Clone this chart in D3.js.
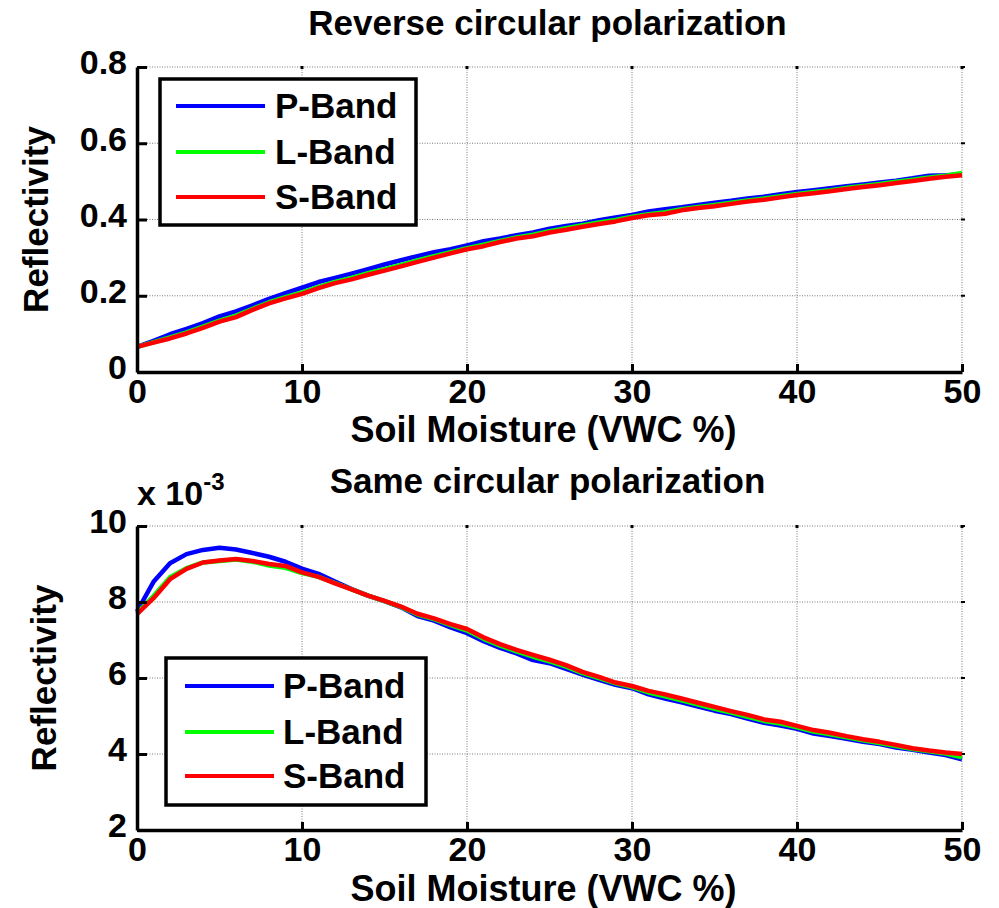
<!DOCTYPE html>
<html>
<head>
<meta charset="utf-8">
<script src="https://cdn.jsdelivr.net/npm/d3@7"></script>
<style>
  body { margin: 0; background: #fff; }
  text { font-family: "Liberation Sans", Arial, sans-serif; font-weight: bold; fill: #000; }
</style>
</head>
<body>
<script>
/* ---------------------- Data ---------------------- */
var moisture = [0,1,2,3,4,5,6,7,8,9,10,11,12,13,14,15,16,17,18,19,20,21,22,23,24,25,
                26,27,28,29,30,31,32,33,34,35,36,37,38,39,40,41,42,43,44,45,46,47,48,49,50];

var bands = ["P-Band", "L-Band", "S-Band"];
var bandColors = ["#0000ff", "#00ff00", "#ff0000"];

// Reverse circular polarization (reflectivity)
var rcpP = [.066,.082,.099,.113,.128,.146,.159,.175,.192,.207,.221,.236,.247,.258,.270,.282,.293,.304,.314,.322,
            .332,.343,.350,.359,.366,.376,.383,.389,.398,.405,.412,.421,.427,.432,.438,.444,.449,.455,.460,.466,
            .472,.477,.482,.487,.492,.497,.502,.508,.515,.516,.518];
var rcpL = [.066,.078,.091,.104,.119,.135,.148,.166,.183,.196,.209,.223,.236,.247,.259,.270,.281,.293,.304,.314,
            .325,.334,.344,.353,.360,.369,.377,.385,.392,.399,.407,.414,.419,.427,.433,.438,.444,.450,.455,.461,
            .467,.472,.477,.483,.488,.493,.499,.504,.510,.515,.522];
var rcpS = [.066,.077,.088,.101,.116,.132,.144,.163,.180,.193,.205,.220,.233,.243,.255,.266,.277,.289,.300,.311,
            .322,.330,.341,.350,.356,.366,.373,.381,.388,.395,.404,.411,.415,.424,.430,.435,.441,.447,.452,.458,
            .464,.469,.474,.480,.485,.490,.496,.501,.507,.512,.516];

// Same circular polarization (reflectivity, x 10^-3)
var scpP = [7.75,8.53,9.02,9.26,9.37,9.43,9.38,9.29,9.19,9.06,8.88,8.74,8.54,8.34,8.17,8.02,7.86,7.63,7.51,7.33,
            7.18,6.97,6.79,6.65,6.47,6.39,6.24,6.09,5.95,5.82,5.73,5.57,5.46,5.36,5.25,5.14,5.05,4.93,4.82,4.75,
            4.66,4.54,4.47,4.40,4.32,4.26,4.17,4.11,4.04,3.97,3.86];
var scpL = [7.70,8.16,8.65,8.89,9.04,9.08,9.12,9.06,8.96,8.90,8.76,8.66,8.50,8.33,8.17,8.02,7.87,7.67,7.55,7.39,
            7.25,7.03,6.85,6.70,6.56,6.44,6.30,6.13,6.00,5.86,5.76,5.62,5.52,5.41,5.30,5.19,5.09,4.98,4.87,4.80,
            4.70,4.59,4.52,4.44,4.36,4.29,4.21,4.13,4.07,4.01,3.91];
var scpS = [7.68,8.10,8.60,8.87,9.04,9.09,9.13,9.08,9.00,8.95,8.78,8.66,8.49,8.33,8.17,8.03,7.88,7.69,7.57,7.42,
            7.29,7.07,6.89,6.74,6.61,6.48,6.34,6.16,6.03,5.88,5.79,5.66,5.57,5.46,5.35,5.24,5.13,5.03,4.91,4.85,
            4.74,4.63,4.56,4.47,4.39,4.32,4.24,4.15,4.09,4.04,4.00];

var xTicks = [0, 10, 20, 30, 40, 50];
var yTicksTop = [0, 0.2, 0.4, 0.6, 0.8];
var yLabelsTop = ["0", "0.2", "0.4", "0.6", "0.8"];
var yTicksBottom = [2, 4, 6, 8, 10];
var yLabelsBottom = ["2", "4", "6", "8", "10"];

/* ---------------------- Chart ---------------------- */
var W = 999, H = 908;
var svg = d3.select("body").append("svg")
    .attr("width", W)
    .attr("height", H);

drawPanel({
    top: 67, bottom: 372,
    yDomain: [0, 0.8], yTicks: yTicksTop, yLabels: yLabelsTop,
    series: [rcpP, rcpL, rcpS],
    title: "Reverse circular polarization", titleY: 35,
    xLabelY: 442, yLabelX: 48,
    legend: {x: 160, y: 79, w: 256, h: 146, rows: [106, 152, 197], lineX: [176, 265], textX: 275}
});

drawPanel({
    top: 526, bottom: 830,
    yDomain: [2, 10], yTicks: yTicksBottom, yLabels: yLabelsBottom,
    series: [scpP, scpL, scpS],
    title: "Same circular polarization", titleY: 493,
    xLabelY: 901, yLabelX: 56,
    legend: {x: 166, y: 658, w: 260, h: 147, rows: [686, 732, 776], lineX: [185, 274], textX: 283},
    exponent: true
});

function drawPanel(cfg) {
    var left = 137, right = 962;

    var x = d3.scaleLinear().domain([0, 50]).range([left, right]);
    var y = d3.scaleLinear().domain(cfg.yDomain).range([cfg.bottom, cfg.top]);

    var g = svg.append("g");

    // Grid (dotted)
    var grid = g.append("g").attr("class", "grid");
    grid.selectAll(".vgrid")
        .data(xTicks.slice(1))
        .enter().append("line")
        .attr("x1", d => x(d)).attr("x2", d => x(d))
        .attr("y1", cfg.top).attr("y2", cfg.bottom);
    grid.selectAll(".hgrid")
        .data(cfg.yTicks.slice(1))
        .enter().append("line")
        .attr("x1", left).attr("x2", right)
        .attr("y1", d => y(d)).attr("y2", d => y(d));
    grid.selectAll("line")
        .attr("stroke", "#7a7a7a")
        .attr("stroke-width", 1)
        .attr("stroke-dasharray", "1,1.5");

    // Small ticks on top and right edges
    g.selectAll(".ttick")
        .data(xTicks.slice(1))
        .enter().append("line")
        .attr("x1", d => x(d)).attr("x2", d => x(d))
        .attr("y1", cfg.top - 1).attr("y2", cfg.top + 2)
        .attr("stroke", "#000").attr("stroke-width", 3);
    g.selectAll(".rtick")
        .data(cfg.yTicks.slice(1))
        .enter().append("line")
        .attr("x1", right - 1).attr("x2", right + 3)
        .attr("y1", d => y(d)).attr("y2", d => y(d))
        .attr("stroke", "#000").attr("stroke-width", 2);

    // Series
    var line = d3.line()
        .x((d, i) => x(moisture[i]))
        .y(d => y(d));

    g.selectAll(".series")
        .data(cfg.series)
        .enter().append("path")
        .attr("class", "series")
        .attr("d", line)
        .attr("fill", "none")
        .attr("stroke", (d, i) => bandColors[i])
        .attr("stroke-width", 4.5)
        .attr("stroke-linejoin", "round");

    // Axes
    var xAxis = d3.axisBottom(x)
        .tickValues(xTicks)
        .tickSizeInner(-8)
        .tickSizeOuter(0)
        .tickPadding(7);
    var yAxis = d3.axisLeft(y)
        .tickValues(cfg.yTicks)
        .tickFormat((d, i) => cfg.yLabels[i])
        .tickSizeInner(-10)
        .tickSizeOuter(0)
        .tickPadding(10);

    var gx = g.append("g")
        .attr("transform", `translate(0, ${cfg.bottom})`)
        .call(xAxis);
    var gy = g.append("g")
        .attr("transform", `translate(${left}, 0)`)
        .call(yAxis);

    [gx, gy].forEach(a => {
        a.select(".domain").attr("stroke", "#000").attr("stroke-width", 3.5);
        a.selectAll(".tick line").attr("stroke", "#000").attr("stroke-width", 3);
        a.selectAll("text")
            .style("font-family", '"Liberation Sans", Arial, sans-serif')
            .style("font-weight", "bold")
            .style("font-size", "34px")
            .attr("fill", "#000");
        a.attr("font-family", null).attr("font-size", null);
    });
    gy.selectAll("text").attr("dy", "0.2em");

    // Titles and labels
    g.append("text")
        .attr("x", (left + right) / 2 - 2)
        .attr("y", cfg.titleY)
        .attr("text-anchor", "middle")
        .style("font-size", "35px")
        .text(cfg.title);

    g.append("text")
        .attr("x", (left + right) / 2 - 6)
        .attr("y", cfg.xLabelY)
        .attr("text-anchor", "middle")
        .style("font-size", "36px")
        .text("Soil Moisture (VWC %)");

    g.append("text")
        .attr("transform", `translate(${cfg.yLabelX}, ${(cfg.top + cfg.bottom) / 2}) rotate(-90)`)
        .attr("text-anchor", "middle")
        .style("font-size", "35px")
        .text("Reflectivity");

    if (cfg.exponent) {
        var ex = g.append("text")
            .attr("x", left)
            .attr("y", 505)
            .style("font-size", "34px");
        ex.append("tspan").text("x 10");
        ex.append("tspan")
            .attr("dy", -15)
            .style("font-size", "24px")
            .text("-3");
    }

    // Legend
    var lg = cfg.legend;
    var legend = g.append("g").attr("class", "legend");
    legend.append("rect")
        .attr("x", lg.x).attr("y", lg.y)
        .attr("width", lg.w).attr("height", lg.h)
        .attr("fill", "#fff")
        .attr("stroke", "#000")
        .attr("stroke-width", 3.5);

    var items = legend.selectAll(".item")
        .data(bands)
        .enter().append("g")
        .attr("class", "item");
    items.append("line")
        .attr("x1", lg.lineX[0]).attr("x2", lg.lineX[1])
        .attr("y1", (d, i) => lg.rows[i]).attr("y2", (d, i) => lg.rows[i])
        .attr("stroke", (d, i) => bandColors[i])
        .attr("stroke-width", 4);
    items.append("text")
        .attr("x", lg.textX)
        .attr("y", (d, i) => lg.rows[i] + 12)
        .style("font-size", "35px")
        .text(d => d);
}
</script>
</body>
</html>
